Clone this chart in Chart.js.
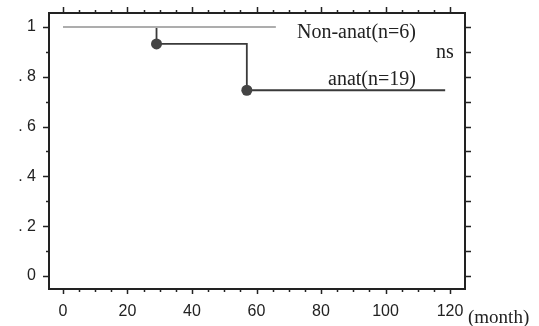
<!DOCTYPE html>
<html>
<head>
<meta charset="utf-8">
<script src="https://cdn.jsdelivr.net/npm/chart.js@4"></script>
<style>
  body { margin: 0; background: #fff; }
</style>
</head>
<body>
<canvas id="kmChart" width="539" height="326"></canvas>
<script>
// survival data
const anatMonths = [0, 29, 57, 118.5];
const anatSurvival = [1, 0.932, 0.746, 0.746];
const anatEventMonths = [29, 57];
const anatEventSurvival = [0.932, 0.746];
const nonAnatMonths = [0, 66];
const nonAnatSurvival = [1, 1];

// axis ticks
const xTickValues = [0, 20, 40, 60, 80, 100, 120];
const yTickValues = [0, 0.2, 0.4, 0.6, 0.8, 1];
const yTickLabels = ['0', '. 2', '. 4', '. 6', '. 8', '1'];

const seriesLabels = ['Non-anat(n=6)', 'anat(n=19)'];
const pLabel = 'ns';
const xUnit = '(month)';

const toPoints = (xs, ys) => xs.map((x, i) => ({ x: x, y: ys[i] }));

const tickFont = { family: "'Liberation Sans Narrow', 'Arial Narrow', 'Liberation Sans', sans-serif", size: 16 };
const serifFont = "'Liberation Serif', 'Times New Roman', serif";
const ink = '#222';

// frame around the plot with major/minor tick marks, plus text notes
const framePlugin = {
  id: 'frame',
  afterDraw(chart) {
    const ctx = chart.ctx;
    const a = chart.chartArea;
    const xs = chart.scales.x;
    const ys = chart.scales.y;
    ctx.save();
    ctx.strokeStyle = ink;
    ctx.lineWidth = 2;
    ctx.strokeRect(a.left, a.top, a.right - a.left, a.bottom - a.top);

    ctx.lineWidth = 1.5;
    ctx.beginPath();
    for (let m = 0; m <= 120; m += 5) {
      const px = Math.round(xs.getPixelForValue(m)) + 0.5;
      const len = m % 20 === 0 ? 6 : 3;
      ctx.moveTo(px, a.top); ctx.lineTo(px, a.top - len);
      ctx.moveTo(px, a.bottom); ctx.lineTo(px, a.bottom + (m % 20 === 0 ? 5 : 3));
    }
    for (let k = 0; k <= 10; k++) {
      const py = Math.round(ys.getPixelForValue(k / 10)) + 0.5;
      const len = k % 2 === 0 ? 6 : 3;
      ctx.moveTo(a.left, py); ctx.lineTo(a.left - len, py);
      ctx.moveTo(a.right, py); ctx.lineTo(a.right + 6, py);
    }
    ctx.stroke();

    ctx.fillStyle = ink;
    ctx.textBaseline = 'middle';
    ctx.textAlign = 'left';
    ctx.font = '20px ' + serifFont;
    ctx.fillText(seriesLabels[0], 297, 33);
    ctx.fillText(seriesLabels[1], 328, 80);
    ctx.fillText(pLabel, 436, 53);
    ctx.font = '19px ' + serifFont;
    ctx.fillText(xUnit, 468, 318);
    ctx.restore();
  }
};

new Chart(document.getElementById('kmChart'), {
  type: 'line',
  data: {
    datasets: [
      {
        label: 'Non-anat',
        data: toPoints(nonAnatMonths, nonAnatSurvival),
        borderColor: '#adadad',
        borderWidth: 2,
        pointRadius: 0,
        stepped: 'before',
        order: 1
      },
      {
        label: 'anat',
        data: toPoints(anatMonths, anatSurvival),
        borderColor: '#3a3a3a',
        borderWidth: 1.8,
        pointRadius: 0,
        stepped: 'before',
        order: 2
      },
      {
        label: 'anat events',
        data: toPoints(anatEventMonths, anatEventSurvival),
        showLine: false,
        pointRadius: 5.5,
        pointBackgroundColor: '#444',
        pointBorderWidth: 0,
        order: 0
      }
    ]
  },
  options: {
    responsive: false,
    animation: false,
    devicePixelRatio: 1,
    layout: { padding: { left: 0, top: 13, right: 74, bottom: 0 } },
    plugins: { legend: { display: false }, tooltip: { enabled: false } },
    scales: {
      x: {
        type: 'linear',
        min: -4.34,
        max: 124.65,
        grid: { display: false, tickLength: 13 },
        border: { display: false },
        afterBuildTicks: (s) => { s.ticks = xTickValues.map(v => ({ value: v })); },
        afterFit: (s) => { s.height = 37; },
        ticks: { font: tickFont, color: ink, padding: 0, maxRotation: 0, autoSkip: false }
      },
      y: {
        type: 'linear',
        min: -0.0522,
        max: 1.0562,
        grid: { display: false, tickLength: 13 },
        border: { display: false },
        afterBuildTicks: (s) => { s.ticks = yTickValues.map(v => ({ value: v })); },
        afterFit: (s) => { s.width = 49; },
        ticks: {
          font: tickFont, color: ink, padding: 0, autoSkip: false,
          callback: (v) => yTickLabels[yTickValues.indexOf(v)]
        }
      }
    }
  },
  plugins: [framePlugin]
});
</script>
</body>
</html>
